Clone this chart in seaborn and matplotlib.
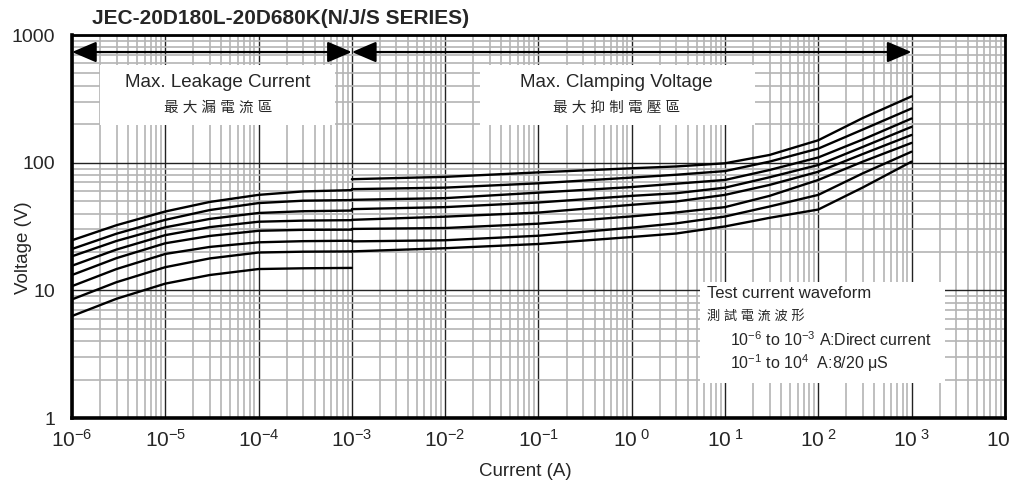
import numpy as np
import pandas as pd
import matplotlib
matplotlib.use("Agg")
import matplotlib.pyplot as plt
import seaborn as sns
from matplotlib.ticker import FixedLocator, FixedFormatter, LogLocator, NullFormatter
from matplotlib.patches import Rectangle

# ---------------- data ----------------
title = "JEC-20D180L-20D680K(N/J/S SERIES)"
x_label = "Current (A)"
y_label = "Voltage (V)"
x_ticks = [1e-6, 1e-5, 1e-4, 1e-3, 1e-2, 1e-1, 1e0, 1e1, 1e2, 1e3, 1e4]
x_tick_labels = [r"$\mathregular{10^{-6}}$", r"$\mathregular{10^{-5}}$", r"$\mathregular{10^{-4}}$",
                 r"$\mathregular{10^{-3}}$", r"$\mathregular{10^{-2}}$", r"$\mathregular{10^{-1}}$",
                 r"$\mathregular{10^{\ 0}}$", r"$\mathregular{10^{\ 1}}$", r"$\mathregular{10^{\ 2}}$",
                 r"$\mathregular{10^{\ 3}}$", r"$\mathregular{10^{\ 4}}$"]
y_ticks = [1, 10, 100, 1000]
y_tick_labels = ["1", "10", "100", "1000"]

# leakage-current region (A) and voltages (V), curves from top to bottom
leak_current = [1e-6, 3e-6, 1e-5, 3e-5, 1e-4, 3e-4, 1e-3]
leak_1 = [24.7, 32.4, 41.5, 49.3, 56.0, 59.6, 61.0]
leak_2 = [21.1, 27.8, 35.7, 42.6, 48.3, 50.4, 51.0]
leak_3 = [18.5, 24.4, 31.2, 36.3, 40.4, 41.7, 42.2]
leak_4 = [15.6, 20.9, 27.1, 31.3, 34.5, 35.2, 35.5]
leak_5 = [13.2, 17.9, 23.4, 26.7, 29.3, 29.8, 29.9]
leak_6 = [10.8, 14.7, 19.3, 21.9, 23.8, 24.3, 24.5]
leak_7 = [8.5, 11.6, 15.2, 17.8, 19.8, 20.1, 20.2]
leak_8 = [6.3, 8.6, 11.3, 13.2, 14.7, 14.9, 15.0]

# clamping-voltage region
clamp_current = [1e-3, 1e-2, 1e-1, 1e0, 3e0, 1e1, 3e1, 1e2, 3e2, 1e3]
clamp_1 = [74.3, 77.5, 84.0, 90.5, 93.5, 99.0, 115.0, 150.0, 224.0, 331.0]
clamp_2 = [62.1, 63.8, 69.0, 76.5, 80.5, 86.0, 102.0, 129.0, 182.0, 266.0]
clamp_3 = [51.2, 52.8, 58.3, 64.5, 68.5, 73.3, 87.7, 110.0, 152.0, 222.0]
clamp_4 = [43.3, 44.9, 48.8, 55.0, 57.7, 63.8, 76.9, 96.0, 133.0, 191.0]
clamp_5 = [35.7, 37.8, 40.7, 46.8, 49.7, 56.0, 67.0, 85.0, 117.0, 165.0]
clamp_6 = [30.3, 30.8, 33.3, 38.0, 40.8, 44.9, 55.0, 73.3, 102.0, 143.0]
clamp_7 = [24.2, 24.7, 26.8, 31.0, 33.5, 37.9, 45.4, 56.0, 82.6, 122.0]
clamp_8 = [20.2, 21.4, 23.1, 26.2, 27.9, 31.7, 37.0, 43.0, 64.0, 102.0]

# region arrows (current range), and annotation texts
leak_range = [1e-6, 1e-3]
clamp_range = [1e-3, 1e3]
arrow_voltage = 736
leak_text = "Max. Leakage Current"
leak_text_zh = "最 大 漏 電 流 區"
clamp_text = "Max. Clamping Voltage"
clamp_text_zh = "最 大 抑 制 電 壓 區"
wave_lines = ["Test current waveform",
              "測 試 電 流 波 形",
              r"10$^{-6}$ to 10$^{-3}$ A:Direct current",
              r"10$^{-1}$ to 10$^{4}$  A:8/20 μS"]

# ---------------- build frames ----------------
leak_sets = [leak_1, leak_2, leak_3, leak_4, leak_5, leak_6, leak_7, leak_8]
clamp_sets = [clamp_1, clamp_2, clamp_3, clamp_4, clamp_5, clamp_6, clamp_7, clamp_8]
leak_df = pd.concat([pd.DataFrame({"current": leak_current, "voltage": v, "curve": i})
                     for i, v in enumerate(leak_sets)], ignore_index=True)
clamp_df = pd.concat([pd.DataFrame({"current": clamp_current, "voltage": v, "curve": i})
                      for i, v in enumerate(clamp_sets)], ignore_index=True)

# ---------------- style ----------------
sns.set_style("white")
plt.rcParams["font.family"] = ["Liberation Sans", "Noto Sans CJK TC", "DejaVu Sans"]
plt.rcParams["mathtext.fontset"] = "custom"
plt.rcParams["mathtext.rm"] = "Liberation Sans"
plt.rcParams["mathtext.it"] = "Liberation Sans:italic"
plt.rcParams["mathtext.bf"] = "Liberation Sans:bold"

fig = plt.figure(figsize=(10.14, 4.8), dpi=100)
ax = fig.add_axes([0.071, 0.129, 0.920, 0.798])
ax.set_xscale("log")
ax.set_yscale("log")
ax.set_xlim(1e-6, 1e4)
ax.set_ylim(1, 1000)

# grid
ax.set_axisbelow(True)
ax.xaxis.set_minor_locator(LogLocator(base=10, subs=np.arange(2, 10), numticks=30))
ax.yaxis.set_minor_locator(LogLocator(base=10, subs=np.arange(2, 10), numticks=30))
ax.xaxis.set_minor_formatter(NullFormatter())
ax.yaxis.set_minor_formatter(NullFormatter())
ax.grid(which="minor", color="#b4b4b4", lw=1.2)
ax.grid(which="major", color="#222222", lw=1.0)

# curves
sns.lineplot(data=leak_df, x="current", y="voltage", units="curve", estimator=None,
             color="black", lw=1.7, ax=ax, legend=False, zorder=4)
sns.lineplot(data=clamp_df, x="current", y="voltage", units="curve", estimator=None,
             color="black", lw=1.7, ax=ax, legend=False, zorder=4)

# ticks
ax.xaxis.set_major_locator(FixedLocator(x_ticks))
ax.xaxis.set_major_formatter(FixedFormatter(x_tick_labels))
ax.yaxis.set_major_locator(FixedLocator(y_ticks))
ax.yaxis.set_major_formatter(FixedFormatter(y_tick_labels))
ax.tick_params(axis="x", which="both", length=0, labelsize=15, pad=8)
ax.tick_params(axis="y", which="both", length=0, labelsize=14, pad=12)

for side in ["left", "bottom", "right", "top"]:
    ax.spines[side].set_visible(True)
    ax.spines[side].set_color("black")
    ax.spines[side].set_linewidth(2.0)
ax.spines["left"].set_linewidth(2.6)
ax.spines["bottom"].set_linewidth(2.6)

ax.set_xlabel(x_label, fontsize=13.5)
ax.set_ylabel(y_label, fontsize=13.5)
ax.xaxis.set_label_coords(0.486, -0.118)
ax.yaxis.set_label_coords(-0.043, 0.446)

# white boxes
for (x0, y0, w, h) in [(0.030, 0.765, 0.252, 0.157), (0.437, 0.765, 0.295, 0.157), (0.673, 0.091, 0.263, 0.264)]:
    ax.add_patch(Rectangle((x0, y0), w, h, transform=ax.transAxes, facecolor="white",
                           edgecolor="none", zorder=2))

ax.text(0.156, 0.875, leak_text, transform=ax.transAxes, ha="center", va="center", fontsize=13.5, zorder=5)
ax.text(0.157, 0.809, leak_text_zh, transform=ax.transAxes, ha="center", va="center", fontsize=10.5, zorder=5)
ax.text(0.584, 0.875, clamp_text, transform=ax.transAxes, ha="center", va="center", fontsize=13.5, zorder=5)
ax.text(0.584, 0.809, clamp_text_zh, transform=ax.transAxes, ha="center", va="center", fontsize=10.5, zorder=5)

ax.text(0.681, 0.324, wave_lines[0], transform=ax.transAxes, ha="left", va="center", fontsize=12, zorder=5)
ax.text(0.681, 0.266, wave_lines[1], transform=ax.transAxes, ha="left", va="center", fontsize=9.5, zorder=5)
ax.text(0.705, 0.206, wave_lines[2], transform=ax.transAxes, ha="left", va="center", fontsize=11.5, zorder=5)
ax.text(0.705, 0.144, wave_lines[3], transform=ax.transAxes, ha="left", va="center", fontsize=11.5, zorder=5)

# region arrows
for rng in [leak_range, clamp_range]:
    ax.annotate("", xy=(rng[0], arrow_voltage), xytext=(rng[1], arrow_voltage),
                arrowprops=dict(arrowstyle="<|-|>,head_length=0.75,head_width=0.32",
                                color="black", lw=1.6, mutation_scale=20,
                                shrinkA=0, shrinkB=0), zorder=5)

fig.text(0.091, 0.9625, title, fontsize=15, fontweight="bold", ha="left", va="center")

fig.savefig("out.png", dpi=100)
